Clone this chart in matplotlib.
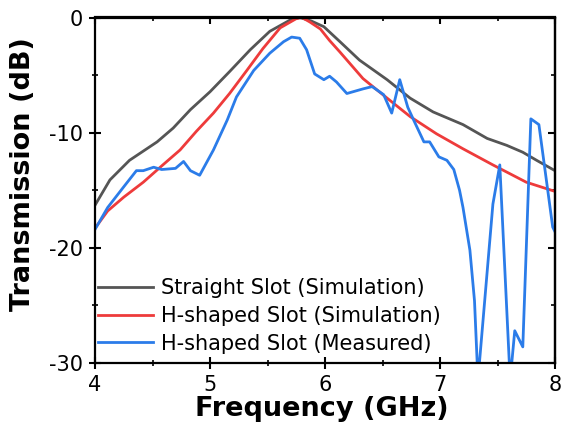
import matplotlib
matplotlib.use("Agg")
import matplotlib.pyplot as plt
from matplotlib.ticker import MultipleLocator

plt.rcParams['font.family'] = ['DejaVu Sans']
plt.rcParams['axes.unicode_minus'] = False

# Straight slot (simulation)
f_straight = [4.00, 4.13, 4.30, 4.54, 4.68, 4.83, 5.00, 5.17, 5.35, 5.52, 5.70, 5.78, 5.88,
              5.99, 6.13, 6.30, 6.54, 6.74, 6.94, 7.20, 7.41, 7.58, 7.72, 7.84, 8.00]
t_straight = [-16.3, -14.1, -12.4, -10.8, -9.6, -8.0, -6.45, -4.7, -2.8, -1.2, -0.2, 0.0, -0.3,
              -0.8, -2.1, -3.7, -5.4, -7.0, -8.2, -9.3, -10.5, -11.1, -11.7, -12.4, -13.3]

# H-shaped slot (simulation)
f_h_sim = [4.00, 4.11, 4.25, 4.42, 4.59, 4.74, 4.88, 5.03, 5.17, 5.32, 5.46, 5.61, 5.75, 5.80,
           5.87, 5.96, 6.04, 6.13, 6.33, 6.54, 6.74, 6.97, 7.20, 7.46, 7.75, 8.00]
t_h_sim = [-18.3, -16.8, -15.6, -14.3, -12.8, -11.5, -9.9, -8.3, -6.6, -4.6, -2.7, -0.9, -0.1, 0.0,
           -0.4, -1.0, -2.0, -3.0, -5.3, -7.0, -8.6, -10.1, -11.4, -12.8, -14.3, -15.1]

# H-shaped slot (measured)
f_h_meas = [4.00, 4.11, 4.25, 4.36, 4.42, 4.51, 4.58, 4.70, 4.77, 4.83, 4.91, 5.03, 5.15, 5.23,
            5.38, 5.52, 5.64, 5.71, 5.78, 5.84, 5.91, 5.99, 6.04, 6.10, 6.19, 6.33, 6.41, 6.51,
            6.58, 6.65, 6.72, 6.78, 6.86, 6.91, 6.99, 7.06, 7.12, 7.17, 7.20, 7.26, 7.30, 7.33,
            7.46, 7.52, 7.61, 7.65, 7.72, 7.79, 7.86, 7.98, 8.00]
t_h_meas = [-18.4, -16.5, -14.7, -13.3, -13.3, -13.0, -13.2, -13.1, -12.5, -13.3, -13.7, -11.5, -8.9, -6.9,
            -4.6, -3.1, -2.1, -1.7, -1.8, -2.8, -4.9, -5.4, -5.1, -5.6, -6.6, -6.2, -6.0, -6.7,
            -8.3, -5.4, -7.8, -9.1, -10.8, -10.8, -12.1, -12.4, -13.2, -15.0, -16.5, -20.2, -24.6, -31.5,
            -16.2, -12.8, -31.5, -27.2, -28.6, -8.8, -9.3, -18.2, -18.6]

labels = ['Straight Slot (Simulation)', 'H-shaped Slot (Simulation)', 'H-shaped Slot (Measured)']
colors = ['#555555', '#ee3b3b', '#2b7ce9']

fig = plt.figure(figsize=(5.61, 4.28), dpi=100)
ax = fig.add_axes([95/561, 1-363/428, 460/561, 345.5/428])

ax.plot(f_straight, t_straight, color=colors[0], lw=2.0, label=labels[0])
ax.plot(f_h_sim, t_h_sim, color=colors[1], lw=2.0, label=labels[1])
ax.plot(f_h_meas, t_h_meas, color=colors[2], lw=2.0, label=labels[2])

ax.set_xlim(4, 8)
ax.set_ylim(-30, 0)
ax.xaxis.set_major_locator(MultipleLocator(1))
ax.xaxis.set_minor_locator(MultipleLocator(0.5))
ax.yaxis.set_major_locator(MultipleLocator(10))
ax.yaxis.set_minor_locator(MultipleLocator(5))

for s in ax.spines.values():
    s.set_linewidth(1.6)

ax.tick_params(which='major', direction='inout', length=8, width=1.5, labelsize=15, pad=4.5)
ax.tick_params(which='minor', direction='inout', length=4, width=1.2)

# inward ticks on top and right
secx = ax.secondary_xaxis('top')
secx.xaxis.set_major_locator(MultipleLocator(1))
secx.xaxis.set_minor_locator(MultipleLocator(0.5))
secx.tick_params(which='major', direction='in', length=5, width=1.5, labeltop=False)
secx.tick_params(which='minor', direction='in', length=3, width=1.2)
secy = ax.secondary_yaxis('right')
secy.yaxis.set_major_locator(MultipleLocator(10))
secy.yaxis.set_minor_locator(MultipleLocator(5))
secy.tick_params(which='major', direction='in', length=5, width=1.5, labelright=False)
secy.tick_params(which='minor', direction='in', length=3, width=1.2)
for s in list(secx.spines.values()) + list(secy.spines.values()):
    s.set_linewidth(1.6)

ax.set_xlabel('Frequency (GHz)', fontsize=19.5, fontweight='bold')
ax.set_ylabel('Transmission (dB)', fontsize=19.5, fontweight='bold')
ax.xaxis.set_label_coords(0.493, -0.095)
ax.yaxis.set_label_coords(-0.128, 0.547)

ax.legend(loc='lower left', bbox_to_anchor=(0.0065, 0.027), frameon=False, fontsize=15,
          handlelength=2.65, handletextpad=0.38, labelspacing=0.37, borderpad=0, borderaxespad=0)

fig.savefig('out.png', dpi=100)
